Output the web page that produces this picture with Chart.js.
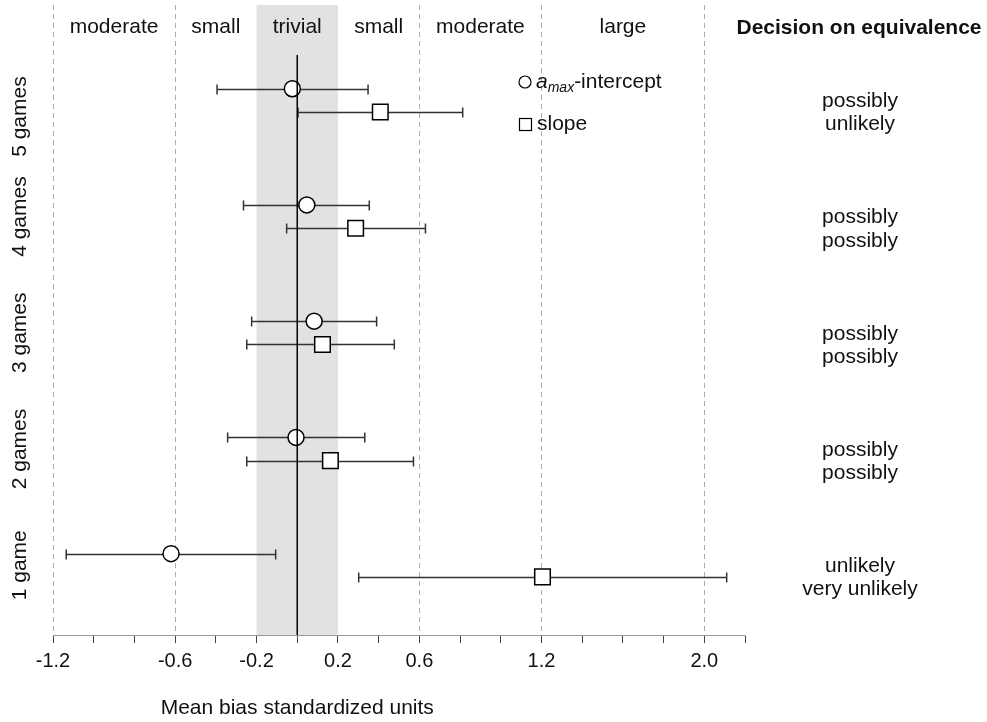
<!DOCTYPE html>
<html lang="en">
<head>
<meta charset="UTF-8">
<title>Mean bias standardized units</title>
<script src="https://cdn.jsdelivr.net/npm/chart.js"></script>
<style>
    html, body {
        margin: 0;
        padding: 0;
        background: #fff;
    }
    .chart-container {
        width: 987px;
        height: 722px;
    }
</style>
</head>
<body>
<div class="chart-container">
    <canvas id="biasChart" width="987" height="722"></canvas>
</div>
<script>
    // groups, bottom to top
    const groups = ['1 game', '2 games', '3 games', '4 games', '5 games'];

    const interceptMean = [-0.62, -0.006, 0.083, 0.047, -0.024];
    const interceptLow = [-1.135, -0.342, -0.224, -0.264, -0.394];
    const interceptHigh = [-0.106, 0.332, 0.39, 0.354, 0.348];

    const slopeMean = [1.205, 0.163, 0.124, 0.287, 0.408];
    const slopeLow = [0.302, -0.248, -0.248, -0.052, 0.004];
    const slopeHigh = [2.11, 0.571, 0.477, 0.63, 0.813];

    const interceptDecision = ['unlikely', 'possibly', 'possibly', 'possibly', 'possibly'];
    const slopeDecision = ['very unlikely', 'possibly', 'possibly', 'possibly', 'unlikely'];

    const xTicks = [-1.2, -1.0, -0.8, -0.6, -0.4, -0.2, 0, 0.2, 0.4, 0.6, 0.8, 1.0, 1.2, 1.4, 1.6, 1.8, 2.0, 2.2];
    const xTickLabels = ['-1.2', '-0.6', '-0.2', '0.2', '0.6', '1.2', '2.0'];
    const dashedAt = [-1.2, -0.6, 0.6, 1.2, 2.0];
    const trivialBand = [-0.2, 0.2];

    const regionNames = ['moderate', 'small', 'trivial', 'small', 'moderate', 'large'];
    const regionCentres = [-0.9, -0.4, 0, 0.4, 0.9, 1.6];

    const FONT = '"Liberation Sans", Arial, sans-serif';
    const near = (a, b) => Math.abs(a - b) < 1e-6;

    // grey "trivial" band behind everything
    const bandPlugin = {
        id: 'band',
        beforeDraw(chart) {
            const { ctx, chartArea, scales: { x } } = chart;
            const x1 = x.getPixelForValue(trivialBand[0]);
            const x2 = x.getPixelForValue(trivialBand[1]);
            ctx.save();
            ctx.fillStyle = '#e2e2e2';
            ctx.fillRect(x1, chartArea.top, x2 - x1, chartArea.bottom - chartArea.top);
            ctx.restore();
        }
    };

    // horizontal confidence limits with end caps
    const errorBarPlugin = {
        id: 'errorBars',
        beforeDatasetsDraw(chart) {
            const { ctx, scales: { x, y } } = chart;
            const drawBar = (lo, hi, v) => {
                const py = Math.round(y.getPixelForValue(v)) + 0.5;
                const a = x.getPixelForValue(lo);
                const b = x.getPixelForValue(hi);
                ctx.beginPath();
                ctx.moveTo(a, py);
                ctx.lineTo(b, py);
                ctx.moveTo(a, py - 5);
                ctx.lineTo(a, py + 5);
                ctx.moveTo(b, py - 5);
                ctx.lineTo(b, py + 5);
                ctx.stroke();
            };
            ctx.save();
            ctx.strokeStyle = '#333';
            ctx.lineWidth = 1.5;
            groups.forEach((g, i) => {
                drawBar(interceptLow[i], interceptHigh[i], i + 1.1);
                drawBar(slopeLow[i], slopeHigh[i], i + 0.9);
            });
            ctx.restore();
        }
    };

    // all the text around the plot plus the legend
    const textPlugin = {
        id: 'texts',
        afterDraw(chart) {
            const { ctx, scales: { x, y } } = chart;
            ctx.save();
            ctx.fillStyle = '#111';
            ctx.textBaseline = 'middle';
            ctx.textAlign = 'center';
            ctx.font = '21px ' + FONT;

            regionNames.forEach((name, i) => {
                ctx.fillText(name, x.getPixelForValue(regionCentres[i]), 27);
            });

            ctx.font = 'bold 21px ' + FONT;
            ctx.fillText('Decision on equivalence', 859, 28);

            ctx.font = '21px ' + FONT;
            groups.forEach((g, i) => {
                ctx.fillText(interceptDecision[i], 860, y.getPixelForValue(i + 1) + 1);
                ctx.fillText(slopeDecision[i], 860, y.getPixelForValue(i + 0.8) + 1);
                // the top label sits a little lower in the original
                const labelY = i === groups.length - 1 ? i + 0.86 : i + 1;
                ctx.save();
                ctx.translate(20, y.getPixelForValue(labelY));
                ctx.rotate(-Math.PI / 2);
                ctx.fillText(g, 0, 0);
                ctx.restore();
            });

            ctx.fillText('Mean bias standardized units', x.getPixelForValue(0), 708);

            // legend
            ctx.strokeStyle = '#000';
            ctx.lineWidth = 1.2;
            ctx.fillStyle = '#fff';
            ctx.beginPath();
            ctx.arc(525, 82, 6, 0, Math.PI * 2);
            ctx.fill();
            ctx.stroke();
            ctx.strokeRect(519.5, 118.5, 12, 12);

            ctx.fillStyle = '#111';
            ctx.textAlign = 'left';
            let lx = 536;
            ctx.font = 'italic 21px ' + FONT;
            ctx.fillText('a', lx, 82);
            lx += ctx.measureText('a').width;
            ctx.font = 'italic 14px ' + FONT;
            ctx.fillText('max', lx, 88);
            lx += ctx.measureText('max').width;
            ctx.font = '21px ' + FONT;
            ctx.fillText('-intercept', lx, 82);
            ctx.fillText('slope', 537, 124);
            ctx.restore();
        }
    };

    const ctx = document.getElementById('biasChart').getContext('2d');

    const biasChart = new Chart(ctx, {
        type: 'scatter',
        data: {
            datasets: [
                {
                    type: 'line',
                    label: 'zero',
                    data: [{ x: 0, y: 0.4 }, { x: 0, y: 5.39 }],
                    borderColor: '#000',
                    borderWidth: 1.5,
                    pointRadius: 0,
                    fill: false,
                },
                {
                    label: 'amax-intercept',
                    data: groups.map((g, i) => ({ x: interceptMean[i], y: i + 1.1 })),
                    pointStyle: 'circle',
                    pointRadius: 8,
                    backgroundColor: '#fff',
                    borderColor: '#000',
                    borderWidth: 1.5,
                },
                {
                    label: 'slope',
                    data: groups.map((g, i) => ({ x: slopeMean[i], y: i + 0.9 })),
                    pointStyle: 'rect',
                    pointRadius: 11,
                    backgroundColor: '#fff',
                    borderColor: '#000',
                    borderWidth: 1.5,
                },
            ],
        },
        options: {
            responsive: false,
            animation: false,
            devicePixelRatio: 1,
            layout: { autoPadding: false, padding: { left: 53, right: 242, top: 5, bottom: 0 } },
            plugins: {
                legend: { display: false },
                tooltip: { enabled: false },
            },
            scales: {
                x: {
                    type: 'linear',
                    min: -1.2,
                    max: 2.2,
                    afterBuildTicks: (scale) => {
                        scale.ticks = xTicks.map(v => ({ value: v }));
                    },
                    afterFit: (scale) => {
                        scale.height = 87;
                    },
                    ticks: {
                        autoSkip: false,
                        maxRotation: 0,
                        padding: 6,
                        color: '#111',
                        font: { family: FONT, size: 20 },
                        callback: (v) => xTickLabels.find(l => near(parseFloat(l), v)) || '',
                    },
                    grid: {
                        color: (c) => (c.tick && dashedAt.some(d => near(d, c.tick.value))) ? '#ababab' : 'rgba(0,0,0,0)',
                        lineWidth: 1,
                        drawTicks: true,
                        tickLength: 8,
                        tickColor: '#444',
                        tickWidth: 1,
                    },
                    border: { display: true, color: '#999', width: 1, dash: [5, 4] },
                },
                y: {
                    type: 'linear',
                    min: 0.4,
                    max: 5.82,
                    display: false,
                },
            },
        },
        plugins: [bandPlugin, errorBarPlugin, textPlugin],
    });
</script>
</body>
</html>
